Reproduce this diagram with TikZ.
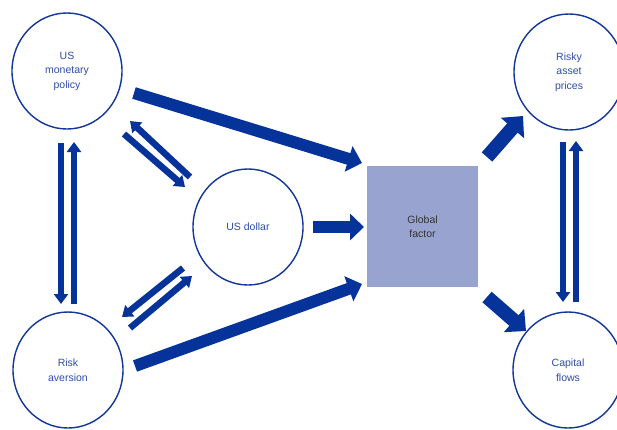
\documentclass[tikz,border=0pt]{standalone}
\usepackage{fontspec}
\setmainfont{Liberation Sans}
\usetikzlibrary{shapes.geometric,arrows.meta}
\definecolor{arrblue}{HTML}{06339A}
\definecolor{circblue}{HTML}{12369A}
\definecolor{txtblue}{HTML}{2D4DA6}
\definecolor{boxfill}{HTML}{99A3CF}
\definecolor{boxtext}{HTML}{333333}
\tikzset{
  circnode/.style={ellipse, draw=circblue, line width=1.4pt, minimum width=110pt, minimum height=116pt,
    text=txtblue, font=\fontsize{10.5}{14.5}\selectfont, align=center, inner sep=0pt},
  gfbox/.style={rectangle, fill=boxfill, minimum width=111pt, minimum height=121pt,
    text=boxtext, font=\fontsize{10.5}{14.5}\selectfont, align=center},
  thinarr/.style={draw=arrblue, line width=6.5pt, -{Triangle[width=14pt,length=10pt]}},
  bigarr/.style={draw=arrblue, line width=12pt, -{Triangle[width=26pt,length=14pt]}},
  fatarr/.style={draw=arrblue, line width=14pt, -{Triangle[width=30pt,length=16pt]}}
}
\begin{document}
\begin{tikzpicture}[x=1pt,y=-1pt]
\useasboundingbox (0,0) rectangle (617,429);
\node[circnode] (mp) at (67,71) {US\\monetary\\policy};
\node[circnode] (ra) at (68,370) {Risk\\aversion};
\node[circnode] (usd) at (248,227) {US dollar};
\node[circnode] (rap) at (569,72) {Risky\\asset\\prices};
\node[circnode] (cf) at (568,370) {Capital\\flows};
\node[gfbox] (gf) at (422.5,226.5) {Global\\factor};
% coordinates for arrow ends
\coordinate (mpA) at (134,93);   \coordinate (gfA) at (362,163);
\coordinate (raA) at (135,366);  \coordinate (gfB) at (362,284);
\coordinate (usdA) at (313,227); \coordinate (gfC) at (364,227);
\coordinate (gfD) at (487,157);  \coordinate (rapA) at (523,116);
\coordinate (gfE) at (487,297);  \coordinate (cfA) at (526,331);
\coordinate (mpL) at (61,143);   \coordinate (raL) at (61,304);
\coordinate (raR) at (74,304);   \coordinate (mpR) at (74,142);
\coordinate (rapL) at (563,142); \coordinate (cfL) at (563,302);
\coordinate (cfR) at (576,302);  \coordinate (rapR) at (576,141);
\coordinate (usdU1) at (190,177); \coordinate (mpD1) at (130,121);
\coordinate (mpD2) at (124,134);  \coordinate (usdU2) at (185,187);
\coordinate (usdL1) at (183,268); \coordinate (raU1) at (122,317);
\coordinate (raU2) at (130,328);  \coordinate (usdL2) at (192,276);
% big arrows
\draw[bigarr] (mpA) -- (gfA);
\draw[bigarr] (raA) -- (gfB);
\draw[bigarr] (usdA) -- (gfC);
\draw[fatarr] (gfD) -- (rapA);
\draw[fatarr] (gfE) -- (cfA);
% thin arrow pairs
\draw[thinarr] (mpL) -- (raL);
\draw[thinarr] (raR) -- (mpR);
\draw[thinarr] (rapL) -- (cfL);
\draw[thinarr] (cfR) -- (rapR);
\draw[thinarr] (usdU1) -- (mpD1);
\draw[thinarr] (mpD2) -- (usdU2);
\draw[thinarr] (usdL1) -- (raU1);
\draw[thinarr] (raU2) -- (usdL2);
\end{tikzpicture}
\end{document}
